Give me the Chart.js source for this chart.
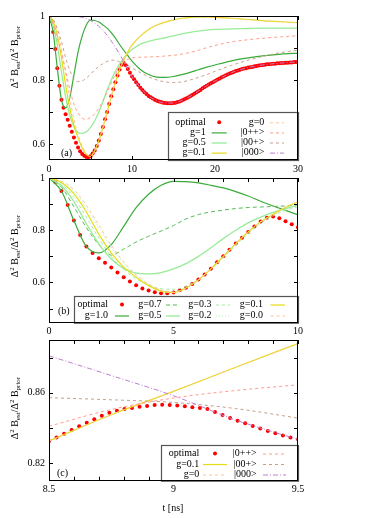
<!DOCTYPE html>
<html>
<head>
<meta charset="utf-8">
<script src="https://cdn.jsdelivr.net/npm/chart.js@4.4.1/dist/chart.umd.min.js"></script>
<style>
  html, body { margin: 0; padding: 0; background: #fff; }
  #wrap { position: relative; width: 370px; height: 518px; overflow: hidden; }
  #wrap canvas { position: absolute; left: 0; }
</style>
</head>
<body>
<div id="wrap">
  <canvas id="pa" width="370" height="175" style="top:0px"></canvas>
  <canvas id="pb" width="370" height="170" style="top:168px"></canvas>
  <canvas id="pc" width="370" height="188" style="top:330px"></canvas>
</div>
<script>
var FONT = "'Liberation Serif', 'DejaVu Serif', serif";

// ---- panel (a): t = 0..30 ns -------------------------------------------
var T_A = [0, 0.5, 1, 1.5, 2, 2.5, 3, 3.5, 4, 4.5, 5, 5.5, 6, 6.5, 7, 7.5, 8, 8.5, 9, 9.5, 10,
  11, 12, 13, 14, 15, 16, 17, 18, 19, 20, 22, 24, 26, 28, 30];
var G1 = [1.0, 0.95, 0.837, 0.738, 0.713, 0.745, 0.815, 0.887, 0.938, 0.972, 0.987, 0.986, 0.981, 0.972, 0.962, 0.948, 0.931, 0.911, 0.893, 0.876, 0.859,
  0.833, 0.817, 0.809, 0.808, 0.811, 0.817, 0.824, 0.832, 0.84, 0.847, 0.86, 0.869, 0.876, 0.881, 0.884];
var G05 = [1.0, 0.97, 0.91, 0.825, 0.748, 0.69, 0.654, 0.636, 0.633, 0.638, 0.652, 0.672, 0.70, 0.733, 0.768, 0.80, 0.828, 0.85, 0.868, 0.883, 0.895,
  0.912, 0.921, 0.927, 0.932, 0.938, 0.944, 0.949, 0.953, 0.956, 0.958, 0.96, 0.961, 0.962, 0.962, 0.962];
var G01 = [1.0, 0.983, 0.94, 0.87, 0.785, 0.713, 0.659, 0.62, 0.588, 0.567, 0.561, 0.579, 0.61, 0.652, 0.70, 0.749, 0.793, 0.833, 0.861, 0.888, 0.909,
  0.937, 0.958, 0.972, 0.981, 0.988, 0.993, 0.996, 0.997, 0.997, 0.996, 0.993, 0.989, 0.985, 0.982, 0.979];
var G0 = [1.0, 0.988, 0.955, 0.895, 0.82, 0.742, 0.678, 0.63, 0.594, 0.57, 0.562, 0.579, 0.61, 0.652, 0.70, 0.749, 0.793, 0.833, 0.861, 0.888, 0.909,
  0.937, 0.958, 0.972, 0.981, 0.988, 0.993, 0.996, 0.997, 0.997, 0.996, 0.993, 0.989, 0.985, 0.982, 0.979];
var K0PP = [1.0, 0.975, 0.93, 0.885, 0.83, 0.77, 0.725, 0.697, 0.681, 0.677, 0.683, 0.694, 0.712, 0.735, 0.762, 0.79, 0.818, 0.841, 0.857, 0.8645, 0.869,
  0.871, 0.872, 0.873, 0.875, 0.877, 0.881, 0.886, 0.893, 0.901, 0.908, 0.919, 0.926, 0.931, 0.935, 0.938];
var K00P = [1.0, 0.99, 0.96, 0.92, 0.87, 0.83, 0.805, 0.795, 0.797, 0.806, 0.818, 0.831, 0.842, 0.851, 0.858, 0.862, 0.862, 0.857, 0.855, 0.846, 0.838,
  0.823, 0.81, 0.80, 0.794, 0.792, 0.794, 0.80, 0.808, 0.817, 0.827, 0.846, 0.862, 0.875, 0.886, 0.893];
var K000 = [1.0, 1.0, 1.0, 1.0, 1.0, 1.0, 0.999, 0.998, 0.996, 0.992, 0.986, 0.978, 0.968, 0.955, 0.94, 0.922, 0.902, 0.881, 0.858, 0.834, 0.811,
  0.776, 0.75, 0.735, 0.728, 0.728, 0.736, 0.749, 0.765, 0.782, 0.797, 0.823, 0.839, 0.848, 0.853, 0.857];

// optimal, one dot every 0.25 ns from 0 to 30
var OPT_STEP = 0.25;
var OPT = [
  1.000, 0.985, 0.950, 0.897, 0.837, 0.782, 0.738, 0.713, 0.693, 0.676,
  0.657, 0.638, 0.620, 0.604, 0.589, 0.577, 0.569, 0.563, 0.559, 0.559,
  0.562, 0.570, 0.580, 0.594, 0.611, 0.631, 0.653, 0.677, 0.700, 0.725,
  0.749, 0.771, 0.793, 0.814, 0.833, 0.848, 0.853, 0.846, 0.834, 0.823,
  0.811,
  0.802, 0.793, 0.784, 0.776, 0.769, 0.762, 0.756, 0.750, 0.746, 0.742,
  0.738, 0.735, 0.733, 0.731, 0.729, 0.728, 0.727, 0.727, 0.727, 0.728,
  0.729, 0.731, 0.733, 0.736, 0.739, 0.742, 0.745, 0.749, 0.753, 0.757,
  0.761, 0.765, 0.769, 0.774, 0.778, 0.782, 0.786, 0.790, 0.793, 0.797,
  0.801, 0.804, 0.808, 0.811, 0.814, 0.817, 0.820, 0.823, 0.825, 0.828,
  0.830, 0.832, 0.834, 0.836, 0.837, 0.839, 0.840, 0.841, 0.843, 0.844,
  0.845, 0.846, 0.847, 0.848, 0.849, 0.849, 0.850, 0.851, 0.851, 0.852,
  0.852, 0.853, 0.853, 0.854, 0.854, 0.855, 0.855, 0.856, 0.856, 0.857
];

// ---- panel (b): t = 0..10 ns (g=1.0, 0.5, 0.1, 0.0 are the first 21 of panel a) ----
var NB = 21;
var G07 = [1.0, 0.965, 0.89, 0.81, 0.745, 0.705, 0.728, 0.755, 0.777, 0.797, 0.818, 0.843, 0.86, 0.87, 0.877, 0.883, 0.887, 0.889, 0.891, 0.893, 0.895];
var G03 = [1.0, 0.978, 0.925, 0.85, 0.77, 0.70, 0.65, 0.614, 0.59, 0.576, 0.574, 0.585, 0.612, 0.65, 0.695, 0.742, 0.787, 0.826, 0.855, 0.876, 0.89];
var G02 = [1.0, 0.985, 0.948, 0.885, 0.81, 0.735, 0.674, 0.628, 0.594, 0.572, 0.565, 0.58, 0.61, 0.651, 0.699, 0.747, 0.792, 0.83, 0.858, 0.88, 0.898];

// ---- panel (c): t = 8.5..9.5 ns --------------------------------------
var T_C = [8.5, 8.75, 9, 9.25, 9.5];
var G01_C = [0.8326, 0.8475, 0.8608, 0.8745, 0.888];
var K0PP_C = [0.841, 0.8505, 0.857, 0.8613, 0.8645];
var K00P_C = [0.8572, 0.856, 0.8545, 0.851, 0.8456];
var K000_C = [0.881, 0.8698, 0.8583, 0.8445, 0.8335];
var OPT_C_START = 8.5, OPT_C_STEP = 1 / 33;
var OPT_C = [0.8326, 0.8346, 0.8367, 0.8388, 0.8409, 0.8430, 0.8450, 0.8469, 0.8487, 0.8498,
  0.8507, 0.8514, 0.8520, 0.8525, 0.8530, 0.8532, 0.8531, 0.8528, 0.8523, 0.8518,
  0.8513, 0.8507, 0.8490, 0.8474, 0.8457, 0.8441, 0.8426, 0.8411, 0.8397, 0.8383,
  0.8370, 0.8357, 0.8346, 0.8335];

// ---- ticks ----
var A_XTICKS = [0, 5, 10, 15, 20, 25, 30], A_XLABELS = ['0', '', '10', '', '20', '', '30'];
var A_YTICKS = [0.6, 0.7, 0.8, 0.9, 1], A_YLABELS = ['0.6', '', '0.8', '', '1'];
var B_XTICKS = [0, 1, 2, 3, 4, 5, 6, 7, 8, 9, 10], B_XLABELS = ['0', '', '', '', '', '5', '', '', '', '', '10'];
var B_YTICKS = [0.5, 0.6, 0.7, 0.8, 0.9, 1], B_YLABELS = ['', '0.6', '', '0.8', '', '1'];
var C_XTICKS = [8.5, 8.6, 8.7, 8.8, 8.9, 9, 9.1, 9.2, 9.3, 9.4, 9.5], C_XLABELS = ['8.5', '', '', '', '', '9', '', '', '', '', '9.5'];
var C_YTICKS = [0.82, 0.84, 0.86, 0.88], C_YLABELS = ['0.82', '', '0.86', ''];

var STYLE = {
  opt:  { dots: true, color: '#ff0000' },
  g1:   { color: '#3aab3a', width: 1.2 },
  g07:  { color: '#55bb55', width: 1, dash: [4, 3] },
  g05:  { color: '#98ec98', width: 1.3 },
  g03:  { color: '#a4eca4', width: 1, dash: [3, 3] },
  g02:  { color: '#b4f0b4', width: 1, dash: [1, 2] },
  g01:  { color: '#e6dc14', width: 1.2 },
  g0:   { color: '#ffc692', width: 1, dash: [3, 3] },
  k0pp: { color: '#ff9c8a', width: 1, dash: [3, 3] },
  k00p: { color: '#c4a088', width: 1, dash: [3, 3] },
  k000: { color: '#bf7fcf', width: 1, dash: [5, 2, 1, 2] }
};

function pts(xs, ys) { return ys.map(function (y, i) { return { x: xs[i], y: y }; }); }
function grid(start, step, n) { var a = []; for (var i = 0; i < n; i++) a.push(start + i * step); return a; }

function dataset(label, key, data, n, i) {
  var s = STYLE[key];
  var d = { label: label, data: data, order: n - i };
  if (s.dots) {
    d.showLine = false; d.pointRadius = 2; d.pointBackgroundColor = s.color;
    d.pointBorderWidth = 0; d.pointBorderColor = s.color; d.borderColor = s.color;
  } else {
    d.borderColor = s.color; d.borderWidth = s.width; d.borderDash = s.dash || [];
    d.pointRadius = 0; d.fill = false; d.cubicInterpolationMode = 'monotone';
  }
  d._key = key;
  return d;
}

// axis boxes get a fixed size so the plot area lands where the reference has it
function axis(ax, isX, size) {
  return {
    type: 'linear', min: ax.min, max: ax.max,
    afterFit: function (s) { if (isX) s.height = size; else s.width = size; },
    afterBuildTicks: function (s) { s.ticks = ax.ticks.map(function (v) { return { value: v }; }); },
    grid: { display: false, drawTicks: false },
    border: { display: false },
    ticks: {
      autoSkip: false, maxRotation: 0, padding: isX ? 3 : 4, color: '#000',
      font: { family: FONT, size: 10 },
      callback: function (v, i) { return ax.labels[i]; }
    }
  };
}

function drawYTitle(ctx, cx, cy) {
  var parts = [['\u0394', 0], ['2', 1], [' B', 0], ['est', -1], ['/\u0394', 0], ['2', 1], [' B', 0], ['prior', -1]];
  var big = '10px ' + FONT, small = '7px ' + FONT;
  ctx.save();
  var total = 0;
  parts.forEach(function (p) { ctx.font = p[1] ? small : big; p.push(ctx.measureText(p[0]).width); total += p[2]; });
  ctx.translate(cx, cy);
  ctx.rotate(-Math.PI / 2);
  ctx.fillStyle = '#000'; ctx.textAlign = 'left'; ctx.textBaseline = 'alphabetic';
  var x = -total / 2;
  parts.forEach(function (p) {
    ctx.font = p[1] ? small : big;
    var dy = p[1] === 1 ? -4 : (p[1] === -1 ? 2.5 : 0);
    ctx.fillText(p[0], x, 3.5 + dy);
    x += p[2];
  });
  ctx.restore();
}

function framePlugin(p) {
  return {
    id: 'frame_' + p.name,
    afterDatasetsDraw: function (chart) {
      var ctx = chart.ctx, a = chart.chartArea, xs = chart.scales.x, ys = chart.scales.y;
      var off = p.top, TL = 4;
      ctx.save();
      ctx.strokeStyle = '#000'; ctx.lineWidth = 1; ctx.setLineDash([]);
      ctx.beginPath();
      xs.ticks.forEach(function (t) {
        var px = Math.round(xs.getPixelForValue(t.value)) + 0.5;
        ctx.moveTo(px, a.bottom); ctx.lineTo(px, a.bottom - TL);
        ctx.moveTo(px, a.top); ctx.lineTo(px, a.top + TL);
      });
      ys.ticks.forEach(function (t) {
        var py = Math.round(ys.getPixelForValue(t.value)) + 0.5;
        ctx.moveTo(a.left, py); ctx.lineTo(a.left + TL, py);
        ctx.moveTo(a.right, py); ctx.lineTo(a.right - TL, py);
      });
      ctx.stroke();

      // legend box
      var L = p.legend, bx = L.box[0], by = L.box[1] - off;
      ctx.fillStyle = '#fff';
      ctx.fillRect(bx, by, a.right - bx, a.bottom - by);
      ctx.strokeStyle = '#555'; ctx.lineWidth = 1.2;
      ctx.strokeRect(Math.round(bx) + 0.5, Math.round(by) + 0.5, a.right - Math.round(bx), a.bottom - Math.round(by));
      ctx.font = '10px ' + FONT; ctx.textAlign = 'right'; ctx.textBaseline = 'middle';
      L.cols.forEach(function (col) {
        col.items.forEach(function (lab, r) {
          var y = L.rows[r] - off;
          ctx.fillStyle = '#000';
          ctx.fillText(lab, col.right, y);
          var ds = chart.data.datasets.filter(function (d) { return d.label === lab; })[0];
          var s = STYLE[ds._key];
          if (s.dots) {
            ctx.fillStyle = s.color; ctx.beginPath();
            ctx.arc((col.s0 + col.s1) / 2, y, 2, 0, Math.PI * 2); ctx.fill();
          } else {
            ctx.strokeStyle = s.color; ctx.lineWidth = s.width; ctx.setLineDash(s.dash || []);
            ctx.beginPath(); ctx.moveTo(col.s0, y + 0.5); ctx.lineTo(col.s1, y + 0.5); ctx.stroke();
            ctx.setLineDash([]);
          }
        });
      });

      // frame
      ctx.strokeStyle = '#000'; ctx.lineWidth = 1;
      ctx.strokeRect(Math.round(a.left) + 0.5, Math.round(a.top) + 0.5, Math.round(a.right - a.left) - 1, Math.round(a.bottom - a.top) - 1);

      ctx.fillStyle = '#000'; ctx.font = '10px ' + FONT;
      ctx.textAlign = 'left'; ctx.textBaseline = 'middle';
      ctx.fillText(p.tag[0], p.tag[1], p.tag[2] - off);
      drawYTitle(ctx, 14, p.titleY - off);
      if (p.xTitle) {
        ctx.font = '10px ' + FONT; ctx.fillStyle = '#000';
        ctx.textAlign = 'center'; ctx.textBaseline = 'middle';
        ctx.fillText(p.xTitle[0], p.xTitle[1], p.xTitle[2] - off);
      }
      ctx.restore();
    }
  };
}

function makeChart(id, p) {
  var n = p.series.length;
  var datasets = p.series.map(function (s, i) { return dataset(s[0], s[1], s[2], n, i); });
  var cv = document.getElementById(id);
  var xSize = cv.height - (p.areaBottom - p.top);
  new Chart(cv, {
    type: 'line',
    data: { datasets: datasets },
    options: {
      responsive: false, animation: false, devicePixelRatio: 1,
      layout: { padding: { left: 0, right: 72, top: p.areaTop - p.top, bottom: 0 } },
      plugins: { legend: { display: false }, tooltip: { enabled: false } },
      scales: { x: axis(p.x, true, xSize), y: axis(p.y, false, 49) }
    },
    plugins: [framePlugin(p)]
  });
}

Chart.defaults.font.family = FONT;
Chart.defaults.font.size = 10;
Chart.defaults.color = '#000';

var T_OPT = grid(0, OPT_STEP, OPT.length);
var T_B = T_A.slice(0, NB);

makeChart('pa', {
  name: 'a', top: 0, areaTop: 16, areaBottom: 160, titleY: 57,
  x: { min: 0, max: 30, ticks: A_XTICKS, labels: A_XLABELS },
  y: { min: 0.55, max: 1, ticks: A_YTICKS, labels: A_YLABELS },
  tag: ['(a)', 61, 153],
  series: [
    ['optimal', 'opt', pts(T_OPT, OPT)],
    ['g=1', 'g1', pts(T_A, G1)],
    ['g=0.5', 'g05', pts(T_A, G05)],
    ['g=0.1', 'g01', pts(T_A, G01)],
    ['g=0', 'g0', pts(T_A, G0)],
    ['|0++>', 'k0pp', pts(T_A, K0PP)],
    ['|00+>', 'k00p', pts(T_A, K00P)],
    ['|000>', 'k000', pts(T_A, K000)]
  ],
  legend: {
    box: [168.3, 112.3], rows: [122.3, 132.4, 142.5, 152.6],
    cols: [
      { right: 205.7, s0: 211.7, s1: 226.7, items: ['optimal', 'g=1', 'g=0.5', 'g=0.1'] },
      { right: 264.3, s0: 270, s1: 284, items: ['g=0', '|0++>', '|00+>', '|000>'] }
    ]
  }
});

makeChart('pb', {
  name: 'b', top: 168, areaTop: 176, areaBottom: 322.7, titleY: 246,
  x: { min: 0, max: 10, ticks: B_XTICKS, labels: B_XLABELS },
  y: { min: 0.446, max: 1, ticks: B_YTICKS, labels: B_YLABELS },
  tag: ['(b)', 58, 311.5],
  series: [
    ['optimal', 'opt', pts(T_OPT.slice(0, 41), OPT.slice(0, 41))],
    ['g=1.0', 'g1', pts(T_B, G1.slice(0, NB))],
    ['g=0.7', 'g07', pts(T_B, G07)],
    ['g=0.5', 'g05', pts(T_B, G05.slice(0, NB))],
    ['g=0.3', 'g03', pts(T_B, G03)],
    ['g=0.2', 'g02', pts(T_B, G02)],
    ['g=0.1', 'g01', pts(T_B, G01.slice(0, NB))],
    ['g=0.0', 'g0', pts(T_B, G0.slice(0, NB))]
  ],
  legend: {
    box: [74, 296], rows: [304.5, 315.5],
    cols: [
      { right: 108, s0: 115, s1: 129, items: ['optimal', 'g=1.0'] },
      { right: 161.5, s0: 166, s1: 180, items: ['g=0.7', 'g=0.5'] },
      { right: 211.5, s0: 216, s1: 230, items: ['g=0.3', 'g=0.2'] },
      { right: 263, s0: 270.5, s1: 285, items: ['g=0.1', 'g=0.0'] }
    ]
  }
});

makeChart('pc', {
  name: 'c', top: 330, areaTop: 337.3, areaBottom: 480.7, titleY: 408,
  x: { min: 8.5, max: 9.5, ticks: C_XTICKS, labels: C_XLABELS },
  y: { min: 0.81, max: 0.89, ticks: C_YTICKS, labels: C_YLABELS },
  tag: ['(c)', 57, 473.3],
  xTitle: ['t [ns]', 173, 508],
  series: [
    ['optimal', 'opt', pts(grid(OPT_C_START, OPT_C_STEP, OPT_C.length), OPT_C)],
    ['g=0.1', 'g01', pts(T_C, G01_C)],
    ['g=0', 'g0', pts(T_C, G01_C)],
    ['|0++>', 'k0pp', pts(T_C, K0PP_C)],
    ['|00+>', 'k00p', pts(T_C, K00P_C)],
    ['|000>', 'k000', pts(T_C, K000_C)]
  ],
  legend: {
    box: [160.7, 445.3], rows: [453.5, 464, 474.5],
    cols: [
      { right: 199.3, s0: 203, s1: 227, items: ['optimal', 'g=0.1', 'g=0'] },
      { right: 256.7, s0: 263, s1: 286, items: ['|0++>', '|00+>', '|000>'] }
    ]
  }
});
</script>
</body>
</html>
